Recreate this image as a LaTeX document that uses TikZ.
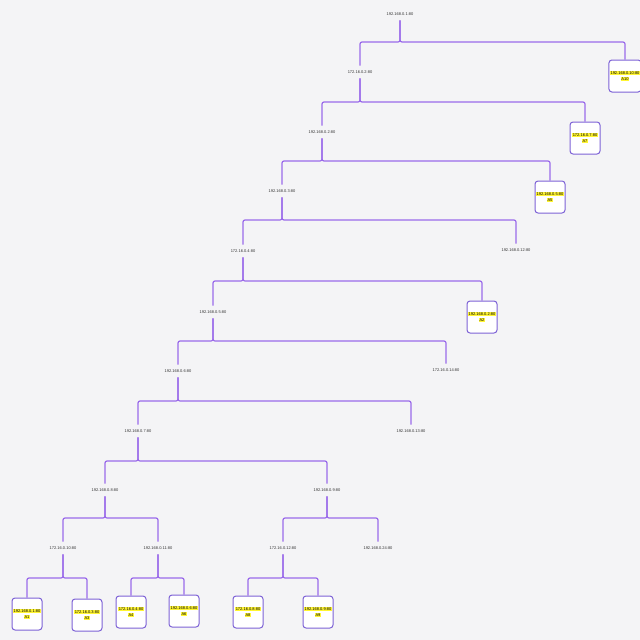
\documentclass[tikz,border=0pt]{standalone}
\usepackage{fontspec}
\setmainfont{Liberation Sans}
\usepackage{xcolor}
\definecolor{bgc}{HTML}{F4F4F6}
\definecolor{linec}{HTML}{9A6AEA}
\definecolor{boxc}{HTML}{7D62D6}
\definecolor{hlc}{HTML}{FFF533}
\newcommand{\hlt}[1]{{\setlength{\fboxsep}{0.6pt}\colorbox{hlc}{#1}}}
\newcommand{\leaftext}[2]{\hlt{#1}\\[0.5pt]\hlt{#2}}
\begin{document}
\begin{tikzpicture}[x=1pt,y=-1pt,
  lbl/.style={font=\fontsize{4}{5}\selectfont, inner sep=0pt, outer ysep=5pt, text=black!80},
  leafbox/.style={draw=boxc, fill=white, line width=1pt, rounded corners=3pt,
    minimum width=30pt, minimum height=32pt, inner sep=1pt, align=center,
    font=\fontsize{4}{5}\selectfont},
  conn/.style={draw=linec, line width=1.2pt, rounded corners=2pt}]
\fill[bgc] (0,0) rectangle (640,640);
\useasboundingbox (0,0) rectangle (640,640);
% internal nodes
\node[lbl] (n0) at (400,14) {192.168.0.1:80};
\node[lbl] (n1) at (360,72) {172.16.0.2:80};
\node[lbl] (n2) at (322,132) {192.168.0.2:80};
\node[lbl] (n3) at (282,191) {192.168.0.3:80};
\node[lbl] (n4) at (243,251) {172.16.0.4:80};
\node[lbl] (n5) at (213,312) {192.168.0.5:80};
\node[lbl] (n6) at (178,371) {192.168.0.6:80};
\node[lbl] (n7) at (138,431) {192.168.0.7:80};
\node[lbl] (n8) at (105,490) {192.168.0.8:80};
\node[lbl] (n9) at (327,490) {192.168.0.9:80};
\node[lbl] (n10) at (63,548) {172.16.0.10:80};
\node[lbl] (n11) at (158,548) {192.168.0.11:80};
\node[lbl] (n12) at (283,548) {172.16.0.12:80};
% plain leaves
\node[lbl] (t1) at (516,250) {192.168.0.12:80};
\node[lbl] (t2) at (446,370) {172.16.0.14:80};
\node[lbl] (t3) at (411,431) {192.168.0.13:80};
\node[lbl] (t4) at (378,548) {192.168.0.24:80};
% boxed leaves
\node[leafbox] (a10) at (625,76) {\leaftext{192.168.0.10:80}{A10}};
\node[leafbox] (a7) at (585,138) {\leaftext{172.16.0.7:80}{A7}};
\node[leafbox] (a5) at (550,197) {\leaftext{192.168.0.5:80}{A5}};
\node[leafbox] (a2) at (482,317) {\leaftext{192.168.0.2:80}{A2}};
\node[leafbox] (a1) at (27,614) {\leaftext{192.168.0.1:80}{A1}};
\node[leafbox] (a3) at (87,615) {\leaftext{172.16.0.3:80}{A3}};
\node[leafbox] (a4) at (131,612) {\leaftext{172.16.0.4:80}{A4}};
\node[leafbox] (a6) at (184,611) {\leaftext{192.168.0.6:80}{A6}};
\node[leafbox] (a8) at (248,612) {\leaftext{172.16.0.8:80}{A8}};
\node[leafbox] (a9) at (318,612) {\leaftext{192.168.0.9:80}{A9}};
% bar levels
\coordinate (b0) at (0,42);
\coordinate (b1) at (0,102);
\coordinate (b2) at (0,161);
\coordinate (b3) at (0,220);
\coordinate (b4) at (0,281);
\coordinate (b5) at (0,341);
\coordinate (b6) at (0,401);
\coordinate (b7) at (0,461);
\coordinate (b8) at (0,518);
\coordinate (b10) at (0,578);
% connectors
\foreach \p/\b/\c in {n0/b0/n1, n0/b0/a10, n1/b1/n2, n1/b1/a7, n2/b2/n3, n2/b2/a5,
  n3/b3/n4, n3/b3/t1, n4/b4/n5, n4/b4/a2, n5/b5/n6, n5/b5/t2, n6/b6/n7, n6/b6/t3,
  n7/b7/n8, n7/b7/n9, n8/b8/n10, n8/b8/n11, n9/b8/n12, n9/b8/t4,
  n10/b10/a1, n10/b10/a3, n11/b10/a4, n11/b10/a6, n12/b10/a8, n12/b10/a9}
  \draw[conn] (\p.south) -- (\p.south |- \b) -| (\c.north);
\end{tikzpicture}
\end{document}
